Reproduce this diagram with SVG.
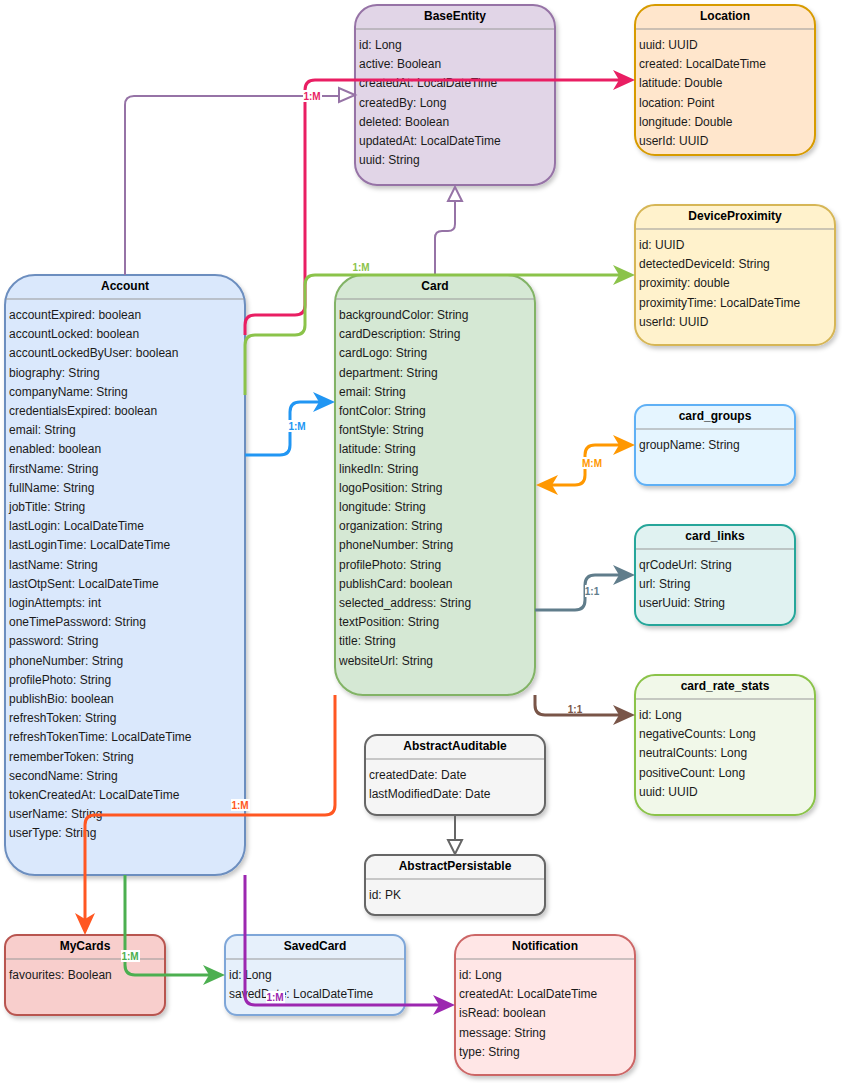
<svg xmlns="http://www.w3.org/2000/svg" width="842" height="1083" viewBox="0 0 842 1083">
<style>
.box{stroke-width:2}
.sep{stroke:#999999;stroke-width:1}
.ttl{font-family:"Liberation Sans",Arial,sans-serif;font-size:12px;font-weight:bold;fill:#000;text-anchor:middle}
.row{font-family:"Liberation Sans",Arial,sans-serif;font-size:12px;fill:#1a1a1a}
.lbl{font-family:"Liberation Sans",Arial,sans-serif;font-size:10px;font-weight:bold;text-anchor:middle}
.ln{fill:none;stroke-width:3;stroke-linejoin:round}
.inh{fill:none;stroke-width:2}
.lbg{fill:#ffffff}
</style>
<defs>
<filter id="sh" x="-10%" y="-10%" width="130%" height="130%">
<feDropShadow dx="2" dy="3" stdDeviation="2" flood-color="#000" flood-opacity="0.22"/>
</filter>
<marker id="aPink" markerUnits="userSpaceOnUse" markerWidth="22" markerHeight="20" refX="12" refY="10" orient="auto"><path d="M0,0 L22,10 L0,20 L6,10 Z" fill="#e91e63"/></marker>
<marker id="aLime" markerUnits="userSpaceOnUse" markerWidth="22" markerHeight="20" refX="12" refY="10" orient="auto"><path d="M0,0 L22,10 L0,20 L6,10 Z" fill="#8bc34a"/></marker>
<marker id="aBlue" markerUnits="userSpaceOnUse" markerWidth="22" markerHeight="20" refX="12" refY="10" orient="auto"><path d="M0,0 L22,10 L0,20 L6,10 Z" fill="#2196f3"/></marker>
<marker id="aOrange" markerUnits="userSpaceOnUse" markerWidth="22" markerHeight="20" refX="12" refY="10" orient="auto-start-reverse"><path d="M0,0 L22,10 L0,20 L6,10 Z" fill="#ff9800"/></marker>
<marker id="aSlate" markerUnits="userSpaceOnUse" markerWidth="22" markerHeight="20" refX="12" refY="10" orient="auto"><path d="M0,0 L22,10 L0,20 L6,10 Z" fill="#607d8b"/></marker>
<marker id="aBrown" markerUnits="userSpaceOnUse" markerWidth="22" markerHeight="20" refX="12" refY="10" orient="auto"><path d="M0,0 L22,10 L0,20 L6,10 Z" fill="#795548"/></marker>
<marker id="aRed" markerUnits="userSpaceOnUse" markerWidth="22" markerHeight="20" refX="12" refY="10" orient="auto"><path d="M0,0 L22,10 L0,20 L6,10 Z" fill="#ff5722"/></marker>
<marker id="aGreen" markerUnits="userSpaceOnUse" markerWidth="22" markerHeight="20" refX="12" refY="10" orient="auto"><path d="M0,0 L22,10 L0,20 L6,10 Z" fill="#4caf50"/></marker>
<marker id="aPurple" markerUnits="userSpaceOnUse" markerWidth="22" markerHeight="20" refX="12" refY="10" orient="auto"><path d="M0,0 L22,10 L0,20 L6,10 Z" fill="#9c27b0"/></marker>
</defs>
<rect width="842" height="1083" fill="#ffffff"/>

<g id="BaseEntity">
<rect class="box" x="355" y="5" width="200" height="180" rx="22" fill="#e1d5e7" stroke="#9673a6" filter="url(#sh)"/>
<line class="sep" x1="356" y1="29" x2="554" y2="29"/>
<text class="ttl" x="455" y="20">BaseEntity</text>
<text class="row" x="359" y="49"><tspan x="359">id: Long</tspan><tspan x="359" dy="19.2">active: Boolean</tspan><tspan x="359" dy="19.2">createdAt: LocalDateTime</tspan><tspan x="359" dy="19.2">createdBy: Long</tspan><tspan x="359" dy="19.2">deleted: Boolean</tspan><tspan x="359" dy="19.2">updatedAt: LocalDateTime</tspan><tspan x="359" dy="19.2">uuid: String</tspan></text>
</g>

<g id="Location">
<rect class="box" x="635" y="5" width="180" height="150" rx="20" fill="#ffe6cc" stroke="#d79b00" filter="url(#sh)"/>
<line class="sep" x1="636" y1="29" x2="814" y2="29"/>
<text class="ttl" x="725" y="20">Location</text>
<text class="row" x="639" y="49"><tspan x="639">uuid: UUID</tspan><tspan x="639" dy="19.2">created: LocalDateTime</tspan><tspan x="639" dy="19.2">latitude: Double</tspan><tspan x="639" dy="19.2">location: Point</tspan><tspan x="639" dy="19.2">longitude: Double</tspan><tspan x="639" dy="19.2">userId: UUID</tspan></text>
</g>

<g id="DeviceProximity">
<rect class="box" x="635" y="205" width="200" height="140" rx="20" fill="#fff2cc" stroke="#d6b656" filter="url(#sh)"/>
<line class="sep" x1="636" y1="229" x2="834" y2="229"/>
<text class="ttl" x="735" y="220">DeviceProximity</text>
<text class="row" x="639" y="249"><tspan x="639">id: UUID</tspan><tspan x="639" dy="19.2">detectedDeviceId: String</tspan><tspan x="639" dy="19.2">proximity: double</tspan><tspan x="639" dy="19.2">proximityTime: LocalDateTime</tspan><tspan x="639" dy="19.2">userId: UUID</tspan></text>
</g>

<g id="Account">
<rect class="box" x="5" y="275" width="240" height="600" rx="30" fill="#dae8fc" stroke="#6c8ebf" filter="url(#sh)"/>
<line class="sep" x1="6" y1="299" x2="244" y2="299"/>
<text class="ttl" x="125" y="290">Account</text>
<text class="row" x="9" y="319"><tspan x="9">accountExpired: boolean</tspan><tspan x="9" dy="19.2">accountLocked: boolean</tspan><tspan x="9" dy="19.2">accountLockedByUser: boolean</tspan><tspan x="9" dy="19.2">biography: String</tspan><tspan x="9" dy="19.2">companyName: String</tspan><tspan x="9" dy="19.2">credentialsExpired: boolean</tspan><tspan x="9" dy="19.2">email: String</tspan><tspan x="9" dy="19.2">enabled: boolean</tspan><tspan x="9" dy="19.2">firstName: String</tspan><tspan x="9" dy="19.2">fullName: String</tspan><tspan x="9" dy="19.2">jobTitle: String</tspan><tspan x="9" dy="19.2">lastLogin: LocalDateTime</tspan><tspan x="9" dy="19.2">lastLoginTime: LocalDateTime</tspan><tspan x="9" dy="19.2">lastName: String</tspan><tspan x="9" dy="19.2">lastOtpSent: LocalDateTime</tspan><tspan x="9" dy="19.2">loginAttempts: int</tspan><tspan x="9" dy="19.2">oneTimePassword: String</tspan><tspan x="9" dy="19.2">password: String</tspan><tspan x="9" dy="19.2">phoneNumber: String</tspan><tspan x="9" dy="19.2">profilePhoto: String</tspan><tspan x="9" dy="19.2">publishBio: boolean</tspan><tspan x="9" dy="19.2">refreshToken: String</tspan><tspan x="9" dy="19.2">refreshTokenTime: LocalDateTime</tspan><tspan x="9" dy="19.2">rememberToken: String</tspan><tspan x="9" dy="19.2">secondName: String</tspan><tspan x="9" dy="19.2">tokenCreatedAt: LocalDateTime</tspan><tspan x="9" dy="19.2">userName: String</tspan><tspan x="9" dy="19.2">userType: String</tspan></text>
</g>

<g id="Card">
<rect class="box" x="335" y="275" width="200" height="420" rx="28" fill="#d5e8d4" stroke="#82b366" filter="url(#sh)"/>
<line class="sep" x1="336" y1="299" x2="534" y2="299"/>
<text class="ttl" x="435" y="290">Card</text>
<text class="row" x="339" y="319"><tspan x="339">backgroundColor: String</tspan><tspan x="339" dy="19.2">cardDescription: String</tspan><tspan x="339" dy="19.2">cardLogo: String</tspan><tspan x="339" dy="19.2">department: String</tspan><tspan x="339" dy="19.2">email: String</tspan><tspan x="339" dy="19.2">fontColor: String</tspan><tspan x="339" dy="19.2">fontStyle: String</tspan><tspan x="339" dy="19.2">latitude: String</tspan><tspan x="339" dy="19.2">linkedIn: String</tspan><tspan x="339" dy="19.2">logoPosition: String</tspan><tspan x="339" dy="19.2">longitude: String</tspan><tspan x="339" dy="19.2">organization: String</tspan><tspan x="339" dy="19.2">phoneNumber: String</tspan><tspan x="339" dy="19.2">profilePhoto: String</tspan><tspan x="339" dy="19.2">publishCard: boolean</tspan><tspan x="339" dy="19.2">selected_address: String</tspan><tspan x="339" dy="19.2">textPosition: String</tspan><tspan x="339" dy="19.2">title: String</tspan><tspan x="339" dy="19.2">websiteUrl: String</tspan></text>
</g>

<g id="card_groups">
<rect class="box" x="635" y="405" width="160" height="80" rx="12" fill="#e5f5ff" stroke="#5fb0f5" filter="url(#sh)"/>
<line class="sep" x1="636" y1="429" x2="794" y2="429"/>
<text class="ttl" x="715" y="420">card_groups</text>
<text class="row" x="639" y="449">groupName: String</text>
</g>

<g id="card_links">
<rect class="box" x="635" y="525" width="160" height="100" rx="14" fill="#e0f2f1" stroke="#26a69a" filter="url(#sh)"/>
<line class="sep" x1="636" y1="549" x2="794" y2="549"/>
<text class="ttl" x="715" y="540">card_links</text>
<text class="row" x="639" y="569"><tspan x="639">qrCodeUrl: String</tspan><tspan x="639" dy="19.2">url: String</tspan><tspan x="639" dy="19.2">userUuid: String</tspan></text>
</g>

<g id="card_rate_stats">
<rect class="box" x="635" y="675" width="180" height="140" rx="20" fill="#f1f8e9" stroke="#8bc34a" filter="url(#sh)"/>
<line class="sep" x1="636" y1="699" x2="814" y2="699"/>
<text class="ttl" x="725" y="690">card_rate_stats</text>
<text class="row" x="639" y="719"><tspan x="639">id: Long</tspan><tspan x="639" dy="19.2">negativeCounts: Long</tspan><tspan x="639" dy="19.2">neutralCounts: Long</tspan><tspan x="639" dy="19.2">positiveCount: Long</tspan><tspan x="639" dy="19.2">uuid: UUID</tspan></text>
</g>

<g id="AbstractAuditable">
<rect class="box" x="365" y="735" width="180" height="80" rx="12" fill="#f5f5f5" stroke="#666666" filter="url(#sh)"/>
<line class="sep" x1="366" y1="759" x2="544" y2="759"/>
<text class="ttl" x="455" y="750">AbstractAuditable</text>
<text class="row" x="369" y="779"><tspan x="369">createdDate: Date</tspan><tspan x="369" dy="19.2">lastModifiedDate: Date</tspan></text>
</g>

<g id="AbstractPersistable">
<rect class="box" x="365" y="855" width="180" height="60" rx="10" fill="#f5f5f5" stroke="#666666" filter="url(#sh)"/>
<line class="sep" x1="366" y1="879" x2="544" y2="879"/>
<text class="ttl" x="455" y="870">AbstractPersistable</text>
<text class="row" x="369" y="899">id: PK</text>
</g>

<g id="MyCards">
<rect class="box" x="5" y="935" width="160" height="80" rx="12" fill="#f8cecc" stroke="#b85450" filter="url(#sh)"/>
<line class="sep" x1="6" y1="959" x2="164" y2="959"/>
<text class="ttl" x="85" y="950">MyCards</text>
<text class="row" x="9" y="979">favourites: Boolean</text>
</g>

<g id="SavedCard">
<rect class="box" x="225" y="935" width="180" height="80" rx="12" fill="#e6f0fb" stroke="#7ea6d8" filter="url(#sh)"/>
<line class="sep" x1="226" y1="959" x2="404" y2="959"/>
<text class="ttl" x="315" y="950">SavedCard</text>
<text class="row" x="229" y="979"><tspan x="229">id: Long</tspan><tspan x="229" dy="19.2">savedDate: LocalDateTime</tspan></text>
</g>

<g id="Notification">
<rect class="box" x="455" y="935" width="180" height="140" rx="20" fill="#ffe6e6" stroke="#cc6666" filter="url(#sh)"/>
<line class="sep" x1="456" y1="959" x2="634" y2="959"/>
<text class="ttl" x="545" y="950">Notification</text>
<text class="row" x="459" y="979"><tspan x="459">id: Long</tspan><tspan x="459" dy="19.2">createdAt: LocalDateTime</tspan><tspan x="459" dy="19.2">isRead: boolean</tspan><tspan x="459" dy="19.2">message: String</tspan><tspan x="459" dy="19.2">type: String</tspan></text>
</g>

<g id="connectors">
<!-- inheritance Account -> BaseEntity -->
<path class="inh" stroke="#9673a6" d="M125,275 V105 Q125,96 134,96 H339"/>
<polygon points="355,95 339,88 339,102" fill="#ffffff" stroke="#9673a6" stroke-width="2"/>
<!-- inheritance Card -> BaseEntity -->
<path class="inh" stroke="#9673a6" d="M435,275 V238 Q435,231 442,231 H448 Q455,231 455,224 V201"/>
<polygon points="455,187 448,201 462,201" fill="#ffffff" stroke="#9673a6" stroke-width="2"/>
<!-- inheritance AbstractAuditable -> AbstractPersistable -->
<path class="inh" stroke="#666666" d="M455,815 V840"/>
<polygon points="455,854 448,840 462,840" fill="#ffffff" stroke="#666666" stroke-width="2"/>

<!-- Account -> Location 1:M -->
<path class="ln" stroke="#e91e63" d="M245,335 V325 Q245,315 255,315 H295 Q305,315 305,305 V90 Q305,80 315,80 H625" marker-end="url(#aPink)"/>
<rect class="lbg" x="303" y="90" width="19" height="12"/>
<text class="lbl" x="312" y="100" fill="#e91e63">1:M</text>

<!-- Account -> DeviceProximity 1:M -->
<path class="ln" stroke="#8bc34a" d="M245,395 V345 Q245,335 255,335 H295 Q305,335 305,325 V285 Q305,275 315,275 H625" marker-end="url(#aLime)"/>
<text class="lbl" x="361" y="271" fill="#8bc34a">1:M</text>

<!-- Account -> Card 1:M -->
<path class="ln" stroke="#2196f3" d="M245,455 H280 Q290,455 290,445 V412 Q290,402 300,402 H325" marker-end="url(#aBlue)"/>
<rect class="lbg" x="288" y="420" width="19" height="12"/>
<text class="lbl" x="297" y="430" fill="#2196f3">1:M</text>

<!-- Card <-> card_groups M:M -->
<path class="ln" stroke="#ff9800" d="M546,485 H575 Q585,485 585,475 V455 Q585,445 595,445 H625" marker-start="url(#aOrange)" marker-end="url(#aOrange)"/>
<rect class="lbg" x="582" y="457" width="21" height="12"/>
<text class="lbl" x="592" y="467" fill="#ff9800">M:M</text>

<!-- Card -> card_links 1:1 -->
<path class="ln" stroke="#607d8b" d="M535,610 H575 Q585,610 585,600 V585 Q585,575 595,575 H625" marker-end="url(#aSlate)"/>
<rect class="lbg" x="585" y="585" width="15" height="12"/>
<text class="lbl" x="592" y="595" fill="#607d8b">1:1</text>

<!-- Card -> card_rate_stats 1:1 -->
<path class="ln" stroke="#795548" d="M535,695 V705 Q535,715 545,715 H625" marker-end="url(#aBrown)"/>
<text class="lbl" x="575" y="713" fill="#795548">1:1</text>

<!-- Card -> MyCards 1:M -->
<path class="ln" stroke="#ff5722" d="M335,695 V805 Q335,815 325,815 H95 Q85,815 85,825 V925" marker-end="url(#aRed)"/>
<rect class="lbg" x="231" y="799" width="19" height="12"/>
<text class="lbl" x="240" y="809" fill="#ff5722">1:M</text>

<!-- Account -> SavedCard 1:M -->
<path class="ln" stroke="#4caf50" d="M125,875 V965 Q125,975 135,975 H215" marker-end="url(#aGreen)"/>
<rect class="lbg" x="121" y="950" width="19" height="12"/>
<text class="lbl" x="130" y="960" fill="#4caf50">1:M</text>

<!-- Account -> Notification 1:M -->
<path class="ln" stroke="#9c27b0" d="M245,875 V995 Q245,1005 255,1005 H445" marker-end="url(#aPurple)"/>
<rect class="lbg" x="266" y="991" width="19" height="12"/>
<text class="lbl" x="275" y="1001" fill="#9c27b0">1:M</text>
</g>
</svg>
